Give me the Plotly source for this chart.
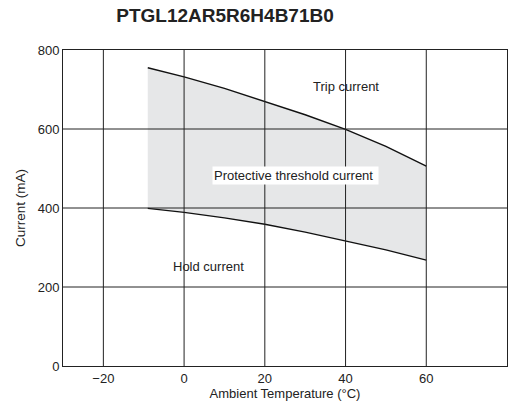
import plotly.graph_objects as go

temps = [-9, 0, 10, 20, 30, 40, 50, 60]
trip_current = [755, 732, 703, 669, 636, 599, 556, 506]
hold_current = [399, 389, 375, 359, 339, 317, 294, 268]
x_ticks = [-20, 0, 20, 40, 60]
y_ticks = [0, 200, 400, 600, 800]

FONT = "Liberation Sans, Arial, sans-serif"
INK = "#222"

fig = go.Figure()
fig.add_trace(go.Scatter(x=temps, y=hold_current, mode="lines",
                         line=dict(color="#111", width=1.4), showlegend=False))
fig.add_trace(go.Scatter(x=temps, y=trip_current, mode="lines", fill="tonexty",
                         fillcolor="#e6e7e8",
                         line=dict(color="#111", width=1.4), showlegend=False))

shapes = []
for xv in x_ticks:
    shapes.append(dict(type="line", xref="x", yref="y domain", x0=xv, x1=xv, y0=0, y1=1,
                       line=dict(color=INK, width=1), layer="above"))
for yv in y_ticks[1:-1]:
    shapes.append(dict(type="line", xref="x domain", yref="y", x0=0, x1=1, y0=yv, y1=yv,
                       line=dict(color=INK, width=1), layer="above"))

annotations = [
    dict(x=40, y=708, text="Trip current", showarrow=False,
         font=dict(size=13, color=INK, family=FONT)),
    dict(x=27.5, y=483, text="Protective threshold current ", showarrow=False,
         bgcolor="white", font=dict(size=13, color=INK, family=FONT)),
    dict(x=6, y=251, text="Hold current", showarrow=False,
         font=dict(size=13, color=INK, family=FONT)),
]

fig.update_layout(
    width=508, height=405,
    margin=dict(l=63, r=1, t=50, b=39),
    paper_bgcolor="white", plot_bgcolor="white",
    hovermode=False,
    title=dict(text="<b>PTGL12AR5R6H4B71B0</b>", x=0.443, xanchor="center", y=0.962, yanchor="middle",
               font=dict(size=19, color=INK, family=FONT)),
    shapes=shapes, annotations=annotations,
    xaxis=dict(range=[-30, 80], tickvals=x_ticks, ticktext=["\u221220", "0", "20", "40", "60"],
               showgrid=False, zeroline=False, showline=True, linecolor=INK, linewidth=1, mirror=True,
               ticks="", tickfont=dict(size=13, color=INK, family=FONT),
               title=dict(text="Ambient Temperature (\u00b0C)", standoff=4,
                          font=dict(size=13, color=INK, family=FONT))),
    yaxis=dict(range=[0, 800], tickvals=y_ticks,
               showgrid=False, zeroline=False, showline=True, linecolor=INK, linewidth=1, mirror=True,
               ticks="", tickfont=dict(size=13, color=INK, family=FONT),
               title=dict(text="Current (mA)", standoff=8,
                          font=dict(size=13.5, color=INK, family=FONT))),
)

fig.write_html("out.html", config={"displayModeBar": False, "staticPlot": True},
               post_script="document.body.style.margin='0';document.body.style.overflow='hidden';")
